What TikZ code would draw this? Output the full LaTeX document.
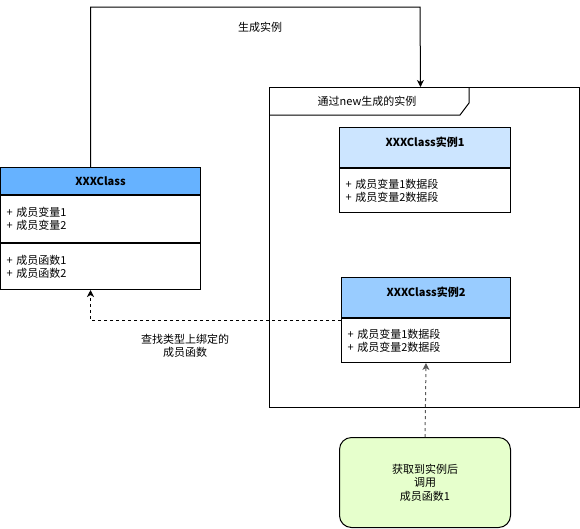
\documentclass[tikz,border=0pt]{standalone}
\usepackage{fontspec}
\setmainfont{Noto Sans CJK SC}
\usetikzlibrary{arrows.meta, positioning}

\definecolor{clsblue}{HTML}{66B2FF}
\definecolor{instlight}{HTML}{CCE5FF}
\definecolor{instblue}{HTML}{99CCFF}
\definecolor{callgreen}{HTML}{E6FFCC}

\begin{document}
\begin{tikzpicture}[
        x=1pt, y=-1pt, line width=1pt,
        every node/.style={font=\fontsize{11}{13.5}\selectfont}, % text like the drawing
        clshead/.style={draw, fill=#1, minimum width=200pt, minimum height=27pt, inner sep=0pt,
            font=\fontsize{11}{13.5}\selectfont\bfseries},
        insthead/.style={draw, fill=#1, minimum width=171pt, inner xsep=0pt, inner ysep=0pt,
            text height=19pt, text depth=21pt, font=\fontsize{11}{13.5}\selectfont\bfseries},
        members/.style={draw, align=left, text width=#1, inner xsep=6pt, inner ysep=0pt,
            font=\fontsize{11}{13}\selectfont},
        link/.style={-{Stealth[length=7pt, width=7pt, inset=2pt]}},
        dashlink/.style={link, dash pattern=on 3pt off 3pt}
    ]
    \useasboundingbox (0,0) rectangle (580,528);

    % the class with its members
    \node[clshead=clsblue, anchor=north west] (cls) at (0,167) {XXXClass};
    \node[members=188pt, minimum height=47pt, below=0pt of cls] (clsvars) {+ 成员变量1\\+ 成员变量2};
    \node[members=188pt, minimum height=46pt, below=0pt of clsvars] (clsfuncs) {+ 成员函数1\\+ 成员函数2};

    % frame holding the instances
    \node[draw, anchor=north west, minimum width=310pt, minimum height=320pt, inner sep=0pt] (frame) at (269,87) {};
    \draw ([yshift=-28pt]frame.north west) -- ++(191,0) -- ++(9,-12) -- ++(0,-16);
    \node (frametitle) at (367,101) {通过new生成的实例};

    \node[insthead=instlight, anchor=north west] (inst1) at (339,127) {XXXClass实例1};
    \node[members=159pt, minimum height=44pt, below=0pt of inst1] (inst1data) {+ 成员变量1数据段\\+ 成员变量2数据段};

    \node[insthead=instblue, anchor=north west, minimum width=169pt] (inst2) at (341,277) {XXXClass实例2};
    \node[members=157pt, minimum height=44pt, below=0pt of inst2] (inst2data) {+ 成员变量1数据段\\+ 成员变量2数据段};

    % the caller
    \node[draw, fill=callgreen, rounded corners=12pt, minimum width=171pt, minimum height=90pt,
        align=center, anchor=north west] (caller) at (339,437) {获取到实例后\\调用\\成员函数1};

    % connectors
    \coordinate (bend) at (420,7);
    \draw[link] ([xshift=-10pt]cls.north) |- (bend) -- ([xshift=-4pt]frame.north);
    \node (newlabel) at (260,27) {生成实例};

    \draw[dashlink] ([yshift=-2pt]inst2data.north west) -| ([xshift=-10pt]clsfuncs.south);
    \node[align=center] (lookup) at (185,346) {查找类型上绑定的\\成员函数};

    \draw[dashlink, draw=black!65] (caller.north) -- (inst2data.south);
\end{tikzpicture}
\end{document}
